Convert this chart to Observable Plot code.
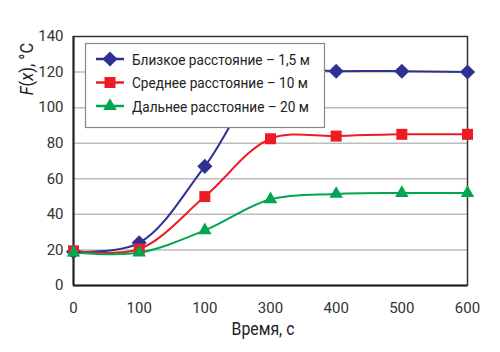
<!DOCTYPE html>
<html><head><meta charset="utf-8">
<script src="https://cdn.jsdelivr.net/npm/d3@7"></script>
<script src="https://cdn.jsdelivr.net/npm/@observablehq/plot@0.6"></script>
<style>
html,body{margin:0;padding:0;background:#fff;}
#chart{position:relative;width:500px;height:352px;}
</style>
</head><body>
<div id="chart"></div>
<script>
const times = [0, 100, 200, 300, 400, 500, 600];
const xTickLabels = ["0", "100", "100", "300", "400", "500", "600"];
const yTicks = [0, 20, 40, 60, 80, 100, 120, 140];
const seriesNames = ["Близкое расстояние – 1,5 м", "Среднее расстояние – 10 м", "Дальнее расстояние – 20 м"];
const nearValues = [19, 24, 67, 119, 120.5, 120.5, 120];
const midValues = [19.5, 20.5, 50, 82.5, 84, 85, 85];
const farValues = [18.5, 18.5, 31, 48.5, 51.5, 52, 52];
const colors = ["#2e3192", "#ed1c24", "#00a651"];
const symbols = ["diamond2", "square", "triangle"];
const radii = [6.8, 6.2, 5];

const allValues = [nearValues, midValues, farValues];
const rows = [];
allValues.forEach((vals, s) => vals.forEach((v, i) => rows.push({series: seriesNames[s], t: times[i], v})));

const font = "Roboto, 'Noto Sans', sans-serif";
const plot = Plot.plot({
  width: 500, height: 352,
  marginLeft: 73, marginRight: 33, marginTop: 36, marginBottom: 67,
  style: {fontFamily: font, fontSize: "15px", color: "#333", background: "#fff"},
  x: {domain: [0, 600], ticks: times, tickFormat: (d, i) => xTickLabels[i], tickSize: 0, tickPadding: 17, label: null},
  y: {domain: [0, 140], ticks: yTicks, tickSize: 0, tickPadding: 10, label: null},
  color: {domain: seriesNames, range: colors},
  symbol: {domain: seriesNames, range: symbols},
  marks: [
    Plot.gridY(yTicks.slice(1, -1), {stroke: "#bdbdbd", strokeOpacity: 1, strokeWidth: 1.5}),
    Plot.frame({stroke: "#333", strokeWidth: 1.5}),
    Plot.ruleX([0], {stroke: "#222", strokeWidth: 2}),
    Plot.ruleY([0], {stroke: "#222", strokeWidth: 2}),
    Plot.line(rows, {x: "t", y: "v", z: "series", stroke: "series", strokeWidth: 2, curve: "catmull-rom"}),
    ...seriesNames.map((name, s) => Plot.dot(rows.filter(d => d.series === name), {x: "t", y: "v", symbol: "series", fill: "series", stroke: "none", r: radii[s]})),
    Plot.axisX({ticks: times, tickFormat: (d, i) => xTickLabels[i], tickSize: 0, tickPadding: 17, fontSize: 15, fill: "#333", label: null}),
    Plot.axisY({ticks: yTicks, tickSize: 0, tickPadding: 10, fontSize: 15, fill: "#333", label: null})
  ]
});
document.getElementById("chart").appendChild(plot);

const svg = d3.select(plot);
// axis titles
svg.append("text").attr("transform", "translate(263,335) scale(0.88,1)").attr("text-anchor", "middle")
  .attr("font-family", font).attr("font-size", 18).attr("fill", "#222").text("Время, с");
const yl = svg.append("text").attr("transform", "translate(33,69) rotate(-90) scale(0.92,1)").attr("text-anchor", "middle")
  .attr("font-family", font).attr("font-size", 18).attr("fill", "#222");
yl.append("tspan").attr("font-style", "italic").text("F");
yl.append("tspan").text("(");
yl.append("tspan").attr("font-style", "italic").text("x");
yl.append("tspan").text("), °C");

// legend
const lg = svg.append("g");
lg.append("rect").attr("x", 85.5).attr("y", 43.5).attr("width", 239).attr("height", 84)
  .attr("fill", "#fff").attr("stroke", "#888").attr("stroke-width", 1.2);
const symGen = {diamond2: d3.symbolDiamond2, square: d3.symbolSquare, triangle: d3.symbolTriangle};
seriesNames.forEach((name, s) => {
  const y = 59 + s * 23.5;
  lg.append("line").attr("x1", 96).attr("x2", 124).attr("y1", y).attr("y2", y)
    .attr("stroke", colors[s]).attr("stroke-width", 2.5);
  lg.append("path").attr("transform", `translate(110,${y})`)
    .attr("d", d3.symbol(symGen[symbols[s]], Math.PI * radii[s] * radii[s])())
    .attr("fill", colors[s]);
  lg.append("text").attr("transform", `translate(132,${y}) scale(0.88,1)`).attr("dy", "0.36em").attr("text-anchor", "start")
    .attr("font-family", font).attr("font-size", 15.5).attr("fill", "#222").text(name);
});
</script>
</body></html>
